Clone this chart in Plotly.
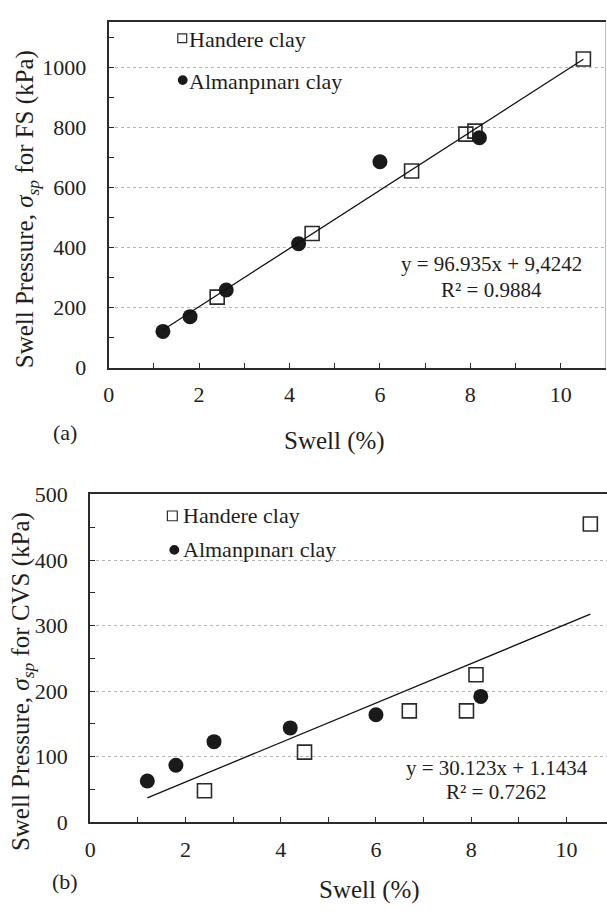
import plotly.graph_objects as go

# ---------------- data ----------------
handere_swell = [2.4, 4.5, 6.7, 7.9, 8.1, 10.5]
handere_fs = [235, 447, 655, 778, 788, 1028]
handere_cvs = [48, 107, 170, 170, 225, 455]

alman_swell = [1.2, 1.8, 2.6, 4.2, 6.0, 8.2]
alman_fs = [121, 170, 259, 413, 686, 766]
alman_cvs = [63, 87, 123, 144, 164, 192]

fit_fs = (96.935, 9.4242)
fit_cvs = (30.123, 1.1434)
fit_x = [1.2, 10.5]

W, H = 607, 917
FONT = "Liberation Serif"
DARK = "#2b2b2b"


def px(x):
    return x / W


def py(y):
    return 1 - y / H


fig = go.Figure()

# (a) FS
fig.add_trace(go.Scatter(x=handere_swell, y=handere_fs, mode="markers",
                         marker=dict(symbol="square-open", size=14, color=DARK, line=dict(width=1.6)),
                         xaxis="x", yaxis="y", showlegend=False))
fig.add_trace(go.Scatter(x=alman_swell, y=alman_fs, mode="markers",
                         marker=dict(symbol="circle", size=15, color="#1a1a1a"),
                         xaxis="x", yaxis="y", showlegend=False))
fig.add_trace(go.Scatter(x=fit_x, y=[fit_fs[0] * v + fit_fs[1] for v in fit_x], mode="lines",
                         line=dict(color="#111", width=1.3), xaxis="x", yaxis="y", showlegend=False))

# (b) CVS
fig.add_trace(go.Scatter(x=handere_swell, y=handere_cvs, mode="markers",
                         marker=dict(symbol="square-open", size=14, color=DARK, line=dict(width=1.6)),
                         xaxis="x2", yaxis="y2", showlegend=False))
fig.add_trace(go.Scatter(x=alman_swell, y=alman_cvs, mode="markers",
                         marker=dict(symbol="circle", size=15, color="#1a1a1a"),
                         xaxis="x2", yaxis="y2", showlegend=False))
fig.add_trace(go.Scatter(x=fit_x, y=[fit_cvs[0] * v + fit_cvs[1] for v in fit_x], mode="lines",
                         line=dict(color="#111", width=1.3), xaxis="x2", yaxis="y2", showlegend=False))

tickfont = dict(family=FONT, size=22, color="#222")

xcommon = dict(tickmode="linear", tick0=0, dtick=2, ticks="inside", ticklen=5, tickwidth=1,
               tickcolor=DARK, showline=True, linecolor=DARK, linewidth=1.8, mirror=True,
               showgrid=False, zeroline=False, tickfont=tickfont, ticklabelstandoff=6,
               minor=dict(dtick=1, ticks="inside", ticklen=5, tickwidth=1, tickcolor=DARK, showgrid=False))
ycommon = dict(tickmode="linear", tick0=0, ticks="inside", ticklen=5, tickwidth=1,
               tickcolor=DARK, showline=True, linecolor=DARK, linewidth=1.8, mirror=False,
               showgrid=True, gridcolor="#b5b5b5", griddash="dot", gridwidth=1,
               zeroline=False, tickfont=tickfont, ticklabelstandoff=16)

fig.update_layout(
    width=W, height=H,
    margin=dict(l=0, r=0, t=0, b=0),
    paper_bgcolor="white", plot_bgcolor="white",
    font=dict(family=FONT),
    xaxis=dict(domain=[px(103.7), px(606)], range=[0, 11], anchor="y", **xcommon),
    yaxis=dict(domain=[py(365.7), py(10.7)], range=[0, 1150], dtick=200, anchor="x",
               minor=dict(dtick=100, ticks="inside", ticklen=5, tickwidth=1, tickcolor=DARK, showgrid=False),
               **ycommon),
    xaxis2=dict(domain=[px(85), 1.0], range=[0, 10.85], anchor="y2", **xcommon),
    yaxis2=dict(domain=[py(833), py(496)], range=[0, 500], dtick=100, anchor="x2",
                minor=dict(dtick=50, ticks="inside", ticklen=5, tickwidth=1, tickcolor=DARK, showgrid=False),
                **ycommon),
)

# right border of panel (a) (light)
fig.add_shape(type="line", xref="paper", yref="paper", x0=px(605.5), x1=px(605.5),
              y0=py(365.7), y1=py(10.7), line=dict(color="#bdbdbd", width=1))

ann = []


def text(x, y, s, size, anchor="center", angle=0):
    ann.append(dict(x=px(x), y=py(y), xref="paper", yref="paper", text=s, showarrow=False,
                    xanchor=anchor, yanchor="middle", textangle=angle,
                    font=dict(family=FONT, size=size, color="#1e1e1e")))


# axis titles
text(332, 441, "Swell (%)", 25)
text(367, 903, "Swell (%)", 25)
text(21, 203, "Swell Pressure, <i>σ</i><sub><i>sp</i></sub> for FS (kPa)", 25, angle=-90)
text(16, 688, "Swell Pressure, <i>σ</i><sub><i>sp</i></sub> for CVS (kPa)", 25, angle=-90)

# panel labels
text(60, 432, "(a)", 22)
text(60, 894, "(b)", 22)

# equations
text(490, 259, "y = 96.935x + 9,4242", 21)
text(490, 286, "R² = 0.9884", 21)
text(496, 777, "y = 30.123x + 1.1434", 21)
text(495, 802, "R² = 0.7262", 21)

# legend texts
text(183, 28, "Handere clay", 22, anchor="left")
text(183, 71, "Almanpınarı clay", 22, anchor="left")
text(177, 518, "Handere clay", 22, anchor="left")
text(177, 553, "Almanpınarı clay", 22, anchor="left")

fig.update_layout(annotations=ann)

# legend keys
def key_square(cx, cy, s):
    fig.add_shape(type="rect", xref="paper", yref="paper",
                  x0=px(cx - s / 2), x1=px(cx + s / 2), y0=py(cy + s / 2), y1=py(cy - s / 2),
                  line=dict(color=DARK, width=1.2), fillcolor="white")


def key_circle(cx, cy, d):
    fig.add_shape(type="circle", xref="paper", yref="paper",
                  x0=px(cx - d / 2), x1=px(cx + d / 2), y0=py(cy + d / 2), y1=py(cy - d / 2),
                  line=dict(color="#1a1a1a", width=0), fillcolor="#1a1a1a")


key_square(178, 27, 9)
key_circle(178.5, 70, 10)
key_square(168, 518, 10)
key_circle(170, 553, 10)

fig.write_html("out.html")
